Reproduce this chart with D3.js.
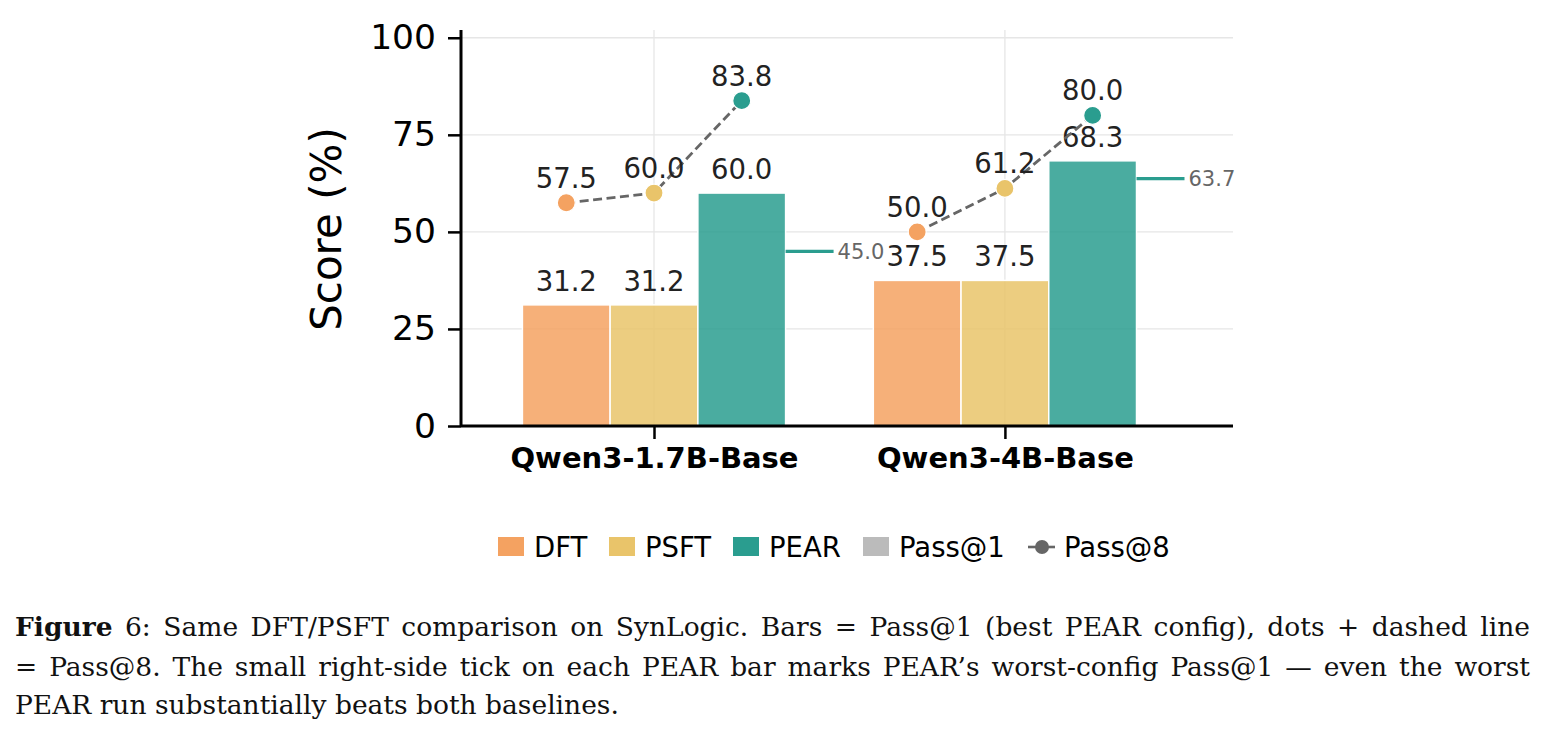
<!DOCTYPE html>
<html>
<head>
<meta charset="utf-8">
<script src="https://cdn.jsdelivr.net/npm/d3@7"></script>
<style>
  html, body { margin: 0; padding: 0; background: #fff; }
  svg { display: block; }
</style>
</head>
<body>
<svg id="chart" width="1544" height="741"></svg>
<script>
// ---- data ----
const categories = ["Qwen3-1.7B-Base", "Qwen3-4B-Base"];
const methods = ["DFT", "PSFT", "PEAR"];
const pass1DFT = [31.2, 37.5];
const pass1PSFT = [31.2, 37.5];
const pass1PEAR = [60.0, 68.3];
const pass8DFT = [57.5, 50.0];
const pass8PSFT = [60.0, 61.2];
const pass8PEAR = [83.8, 80.0];
const pearWorstPass1 = [45.0, 63.7];
const yTickValues = [0, 25, 50, 75, 100];
const legendLabels = ["DFT", "PSFT", "PEAR", "Pass@1", "Pass@8"];
const captionLines = [
  ["Figure", " 6: Same DFT/PSFT comparison on SynLogic. Bars = Pass@1 (best PEAR config), dots + dashed line"],
  ["", "= Pass@8. The small right-side tick on each PEAR bar marks PEAR\u2019s worst-config Pass@1 \u2014 even the worst"],
  ["", "PEAR run substantially beats both baselines."]
];

// ---- styles ----
const colors = { DFT: "#F4A261", PSFT: "#E9C46A", PEAR: "#2A9D8F" };
const pass1Vals = { DFT: pass1DFT, PSFT: pass1PSFT, PEAR: pass1PEAR };
const pass8Vals = { DFT: pass8DFT, PSFT: pass8PSFT, PEAR: pass8PEAR };
const offsets = { DFT: -0.25, PSFT: 0, PEAR: 0.25 };
const barW = 0.25;
const font = "DejaVu Sans, sans-serif";

const svg = d3.select("#chart");

const x = d3.scaleLinear().domain([-0.55, 1.65]).range([461, 1233]);
const y = d3.scaleLinear().domain([0, 102]).range([426, 30]);

// grid
const grid = svg.append("g");
grid.selectAll("line.h").data(yTickValues.filter(d => d > 0)).join("line")
  .attr("x1", x.range()[0]).attr("x2", x.range()[1])
  .attr("y1", d => y(d)).attr("y2", d => y(d))
  .attr("stroke", "#e6e6e6").attr("stroke-width", 1.3);
grid.selectAll("line.v").data(categories.map((c, i) => i)).join("line")
  .attr("x1", d => x(d)).attr("x2", d => x(d))
  .attr("y1", y.range()[0]).attr("y2", y.range()[1])
  .attr("stroke", "#e6e6e6").attr("stroke-width", 1.3);

// bars
const barData = [];
methods.forEach(m => categories.forEach((c, i) => barData.push({ m, i, v: pass1Vals[m][i] })));
svg.append("g").selectAll("rect").data(barData).join("rect")
  .attr("x", d => x(d.i + offsets[d.m] - barW / 2))
  .attr("width", d => x(barW) - x(0))
  .attr("y", d => y(d.v))
  .attr("height", d => y(0) - y(d.v))
  .attr("fill", d => colors[d.m])
  .attr("fill-opacity", 0.85)
  .attr("stroke", "#fff").attr("stroke-width", 1.5);

// worst-config ticks
const worst = svg.append("g");
pearWorstPass1.forEach((v, i) => {
  const x0 = x(i + offsets.PEAR + barW / 2);
  worst.append("line")
    .attr("x1", x0).attr("x2", x0 + 48)
    .attr("y1", y(v)).attr("y2", y(v))
    .attr("stroke", colors.PEAR).attr("stroke-width", 3.2);
  worst.append("text")
    .attr("x", x0 + 52).attr("y", y(v))
    .attr("dy", "0.35em")
    .attr("font-family", font).attr("font-size", 21)
    .attr("fill", "#666")
    .text(v.toFixed(1));
});

// bar value labels
svg.append("g").selectAll("text").data(barData).join("text")
  .attr("x", d => x(d.i + offsets[d.m]))
  .attr("y", d => y(d.v) - 14)
  .attr("text-anchor", "middle")
  .attr("font-family", font).attr("font-size", 27.5)
  .attr("fill", "#222")
  .text(d => d.v.toFixed(1));

// axes
const yAxis = d3.axisLeft(y).tickValues(yTickValues).tickSize(13).tickPadding(12).tickFormat(d3.format("d"));
const yG = svg.append("g").attr("transform", `translate(${x.range()[0]},0)`).call(yAxis);
yG.select(".domain").attr("stroke", "#000").attr("stroke-width", 3).attr("d", `M0,${y.range()[0]}V${y.range()[1]}`);
yG.selectAll(".tick line").attr("stroke", "#000").attr("stroke-width", 2.5);
yG.selectAll(".tick text").attr("font-family", font).attr("font-size", 34.5).attr("fill", "#000");

const xAxis = d3.axisBottom(x).tickValues(categories.map((c, i) => i)).tickSize(13).tickPadding(8).tickFormat(i => categories[i]);
const xG = svg.append("g").attr("transform", `translate(0,${y(0)})`).call(xAxis);
xG.select(".domain").attr("stroke", "#000").attr("stroke-width", 3).attr("d", `M${x.range()[0]},0H${x.range()[1]}`);
xG.selectAll(".tick line").attr("stroke", "#000").attr("stroke-width", 2.5);
xG.selectAll(".tick text").attr("font-family", font).attr("font-size", 29).attr("font-weight", "bold").attr("fill", "#000");

// y label
svg.append("text")
  .attr("transform", `translate(341,${(y(0) + y(102)) / 2 + 1}) rotate(-90)`)
  .attr("text-anchor", "middle")
  .attr("font-family", font).attr("font-size", 42)
  .attr("fill", "#000")
  .text("Score (%)");

// pass@8 dashed lines + dots
const lineGen = d3.line().x(d => x(d.i + offsets[d.m])).y(d => y(d.v));
categories.forEach((c, i) => {
  const pts = methods.map(m => ({ m, i, v: pass8Vals[m][i] }));
  svg.append("path").datum(pts)
    .attr("d", lineGen)
    .attr("fill", "none")
    .attr("stroke", "#666").attr("stroke-width", 2.8)
    .attr("stroke-dasharray", "9,4.5");
  svg.append("g").selectAll("circle").data(pts).join("circle")
    .attr("cx", d => x(d.i + offsets[d.m]))
    .attr("cy", d => y(d.v))
    .attr("r", 9)
    .attr("fill", d => colors[d.m])
    .attr("stroke", "#fff").attr("stroke-width", 1.2);
  svg.append("g").selectAll("text").data(pts).join("text")
    .attr("x", d => x(d.i + offsets[d.m]))
    .attr("y", d => y(d.v) - 15)
    .attr("text-anchor", "middle")
    .attr("font-family", font).attr("font-size", 27.5)
    .attr("fill", "#222")
    .text(d => d.v.toFixed(1));
});

// legend
const legendX = [498, 609, 733, 863, 1028];
const legendY = 547;
const lg = svg.append("g");
legendLabels.forEach((lab, k) => {
  const x0 = legendX[k];
  if (k < 4) {
    const col = k < 3 ? colors[methods[k]] : "#BBBBBB";
    lg.append("rect").attr("x", x0).attr("y", legendY - 10).attr("width", 26).attr("height", 19).attr("fill", col);
  } else {
    lg.append("line").attr("x1", x0).attr("x2", x0 + 27).attr("y1", legendY).attr("y2", legendY)
      .attr("stroke", "#666").attr("stroke-width", 2.6);
    lg.append("circle").attr("cx", x0 + 14).attr("cy", legendY).attr("r", 7).attr("fill", "#666");
  }
  lg.append("text").attr("x", x0 + 36).attr("y", legendY).attr("dy", "0.35em")
    .attr("font-family", font).attr("font-size", 27.5).attr("fill", "#000").text(lab);
});

// caption
const capFont = "DejaVu Serif, serif";
const capBaselines = [636, 676, 714];
const capLeft = 15, capRight = 1530;
captionLines.forEach((parts, k) => {
  const t = svg.append("text")
    .attr("x", capLeft).attr("y", capBaselines[k])
    .attr("font-family", capFont).attr("font-size", 26.5).attr("fill", "#111");
  if (parts[0]) t.append("tspan").attr("font-weight", "bold").text(parts[0]);
  t.append("tspan").text(parts[1]);
  if (k < 2) {
    const w = t.node().getComputedTextLength();
    const nSpaces = (parts[0] + parts[1]).split(" ").length - 1;
    const ws = (capRight - capLeft - w) / nSpaces;
    t.attr("word-spacing", ws);
  }
});
</script>
</body>
</html>
